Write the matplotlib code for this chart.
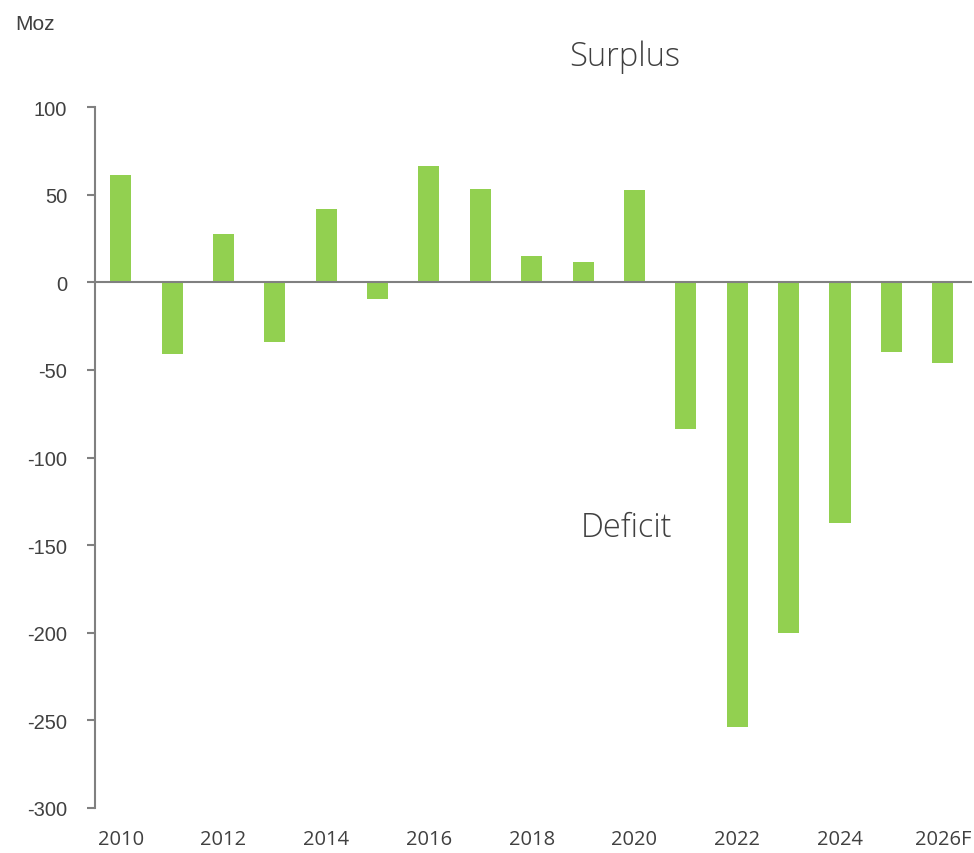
# Silver market balance by year, Moz

import numpy as np
import matplotlib.pyplot as plt

years = ['2010', '2011', '2012', '2013', '2014', '2015', '2016', '2017', '2018',
         '2019', '2020', '2021', '2022', '2023', '2024', '2025', '2026F']
balance = [61, -41, 27.5, -34, 42, -9.5, 66.5, 53.5, 15, 11.5, 52.5,
           -83.5, -254, -200, -137.5, -40, -46]
y_ticks = [100, 50, 0, -50, -100, -150, -200, -250, -300]

GREEN = '#92d050'
TEXT = '#404040'
AXIS = '#808080'

fig = plt.figure(figsize=(9.74, 8.54), dpi=100)
ax = fig.add_axes([0.0975, 0.0527, 0.9005, 0.8208])

x = np.arange(len(years))
ax.bar(x, balance, width=0.41, color=GREEN, zorder=2)
ax.axhline(0, color=AXIS, linewidth=1.5, zorder=3)

ax.set_ylim(-300, 100)
ax.set_xlim(-0.5, 16.57)
ax.set_yticks(y_ticks)
ax.set_yticklabels([str(v) for v in y_ticks], family='Liberation Sans', fontsize=14.5, color=TEXT)
ax.set_xticks(x[::2])
ax.set_xticklabels(years[::2], family='Open Sans', fontsize=14.5, color=TEXT)
ax.tick_params(axis='x', length=0, pad=15)
ax.tick_params(axis='y', length=6, width=1.5, color=AXIS, pad=14)

for side in ['top', 'right', 'bottom']:
    ax.spines[side].set_visible(False)
ax.spines['left'].set_color(AXIS)
ax.spines['left'].set_linewidth(1.5)

fig.text(0.016, 0.982, 'Moz', family='Liberation Sans', fontsize=15, color=TEXT, va='top', ha='left')
fig.text(0.641, 0.933, 'Surplus', family='Open Sans', fontweight='light', fontsize=23.5, color=TEXT, ha='center', va='center')
fig.text(0.643, 0.382, 'Deficit', family='Open Sans', fontweight='light', fontsize=23.5, color=TEXT, ha='center', va='center')

fig.savefig('out.png', dpi=100)
